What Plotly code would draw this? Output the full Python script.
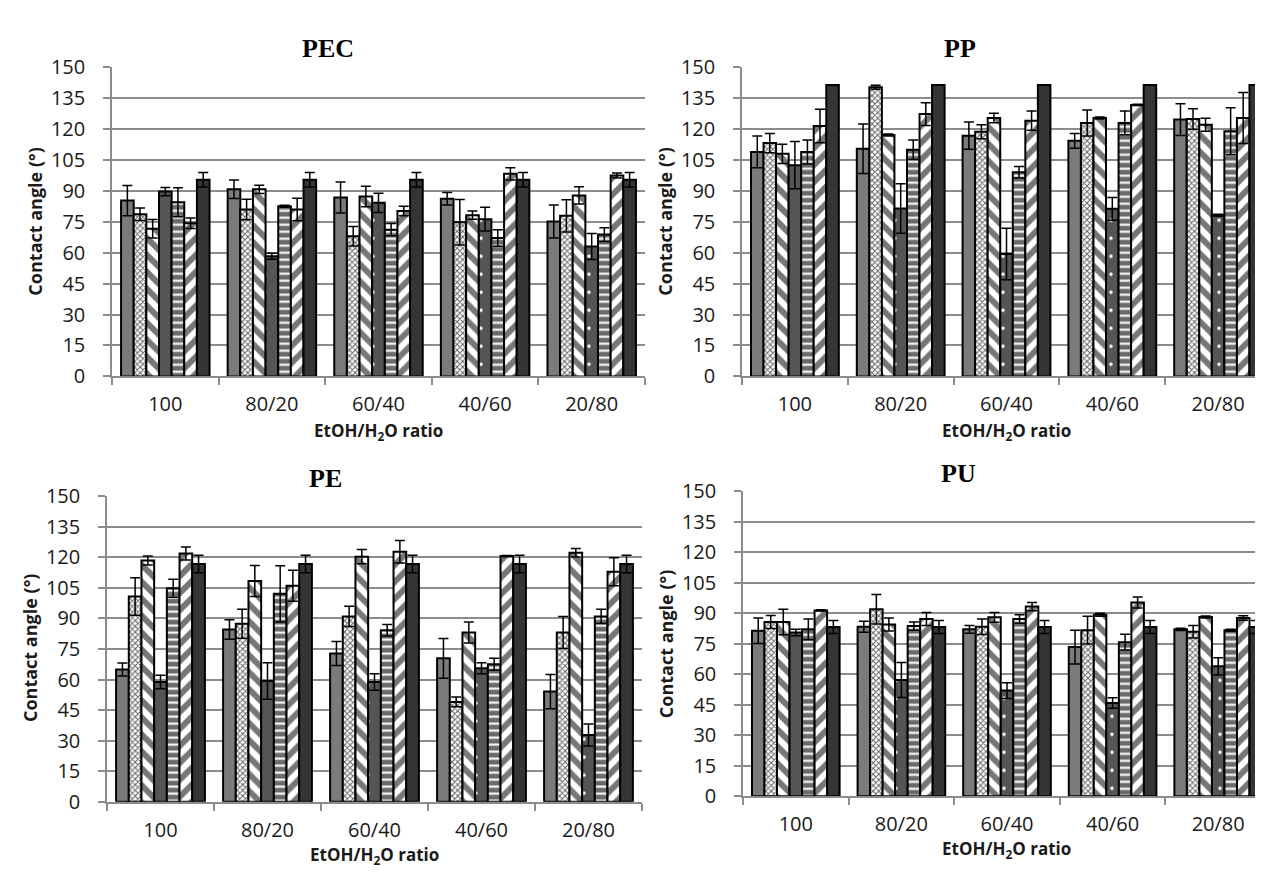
import plotly.graph_objects as go

CATEGORIES = ["100", "80/20", "60/40", "40/60", "20/80"]
PANEL_TITLES = ["PEC", "PP", "PE", "PU"]

# values per series (7 series) for each category
PEC_VALUES = [
    [85.3, 90.8, 86.8, 86.2, 75.2],
    [78.7, 81.0, 68.0, 74.8, 77.9],
    [71.6, 90.8, 87.3, 78.2, 87.8],
    [89.7, 58.3, 84.2, 76.3, 63.0],
    [84.5, 82.6, 71.2, 67.2, 68.8],
    [74.3, 81.0, 80.3, 98.3, 97.5],
    [95.4, 95.4, 95.4, 95.4, 95.4],
]
PEC_ERRORS = [
    [7.3, 4.5, 7.5, 3.0, 8.0],
    [3.0, 5.0, 4.7, 11.0, 7.8],
    [4.5, 2.0, 5.0, 2.0, 4.2],
    [2.0, 1.5, 4.7, 5.8, 6.3],
    [7.0, 0.5, 3.0, 4.0, 3.3],
    [2.5, 5.5, 2.3, 3.0, 1.2],
    [3.5, 3.5, 3.5, 3.5, 3.5],
]
PP_VALUES = [
    [108.9, 110.5, 116.8, 114.3, 124.6],
    [113.2, 140.3, 118.7, 123.0, 124.9],
    [108.0, 117.1, 125.4, 125.4, 122.1],
    [102.5, 81.5, 59.4, 81.3, 78.2],
    [108.9, 110.0, 99.1, 123.0, 119.0],
    [121.5, 127.3, 124.1, 131.7, 125.4],
    [141.4, 141.4, 141.4, 141.4, 141.4],
]
PP_ERRORS = [
    [7.7, 12.0, 6.6, 3.6, 7.7],
    [4.7, 1.0, 3.4, 6.3, 5.0],
    [4.7, 0.5, 2.3, 0.5, 3.1],
    [11.5, 12.0, 12.5, 5.5, 0.5],
    [5.8, 4.7, 2.8, 5.8, 11.4],
    [8.1, 5.5, 4.7, 0.3, 12.4],
    [0.0, 0.0, 0.0, 0.0, 0.0],
]
PE_VALUES = [
    [64.9, 84.6, 72.8, 70.4, 54.1],
    [100.8, 87.4, 91.0, 49.0, 83.1],
    [118.4, 108.4, 120.3, 83.1, 122.2],
    [58.8, 59.3, 58.8, 65.6, 32.8],
    [104.8, 102.1, 84.2, 67.5, 91.0],
    [121.9, 106.0, 122.7, 120.6, 112.9],
    [116.7, 116.7, 116.7, 116.7, 116.7],
]
PE_ERRORS = [
    [3.2, 4.8, 5.9, 9.8, 8.4],
    [9.2, 7.1, 5.0, 2.4, 7.9],
    [2.2, 7.6, 3.5, 5.2, 2.1],
    [3.3, 9.0, 4.0, 2.7, 5.4],
    [4.4, 13.8, 2.8, 2.9, 3.5],
    [3.2, 7.6, 5.5, 0.3, 6.9],
    [4.3, 4.3, 4.3, 4.3, 4.3],
]
PU_VALUES = [
    [81.4, 83.4, 82.1, 73.4, 82.1],
    [85.7, 92.0, 83.4, 81.7, 80.9],
    [85.7, 84.5, 88.0, 89.3, 88.2],
    [80.6, 57.2, 52.0, 45.9, 63.9],
    [82.1, 83.7, 87.2, 75.8, 81.7],
    [91.4, 87.2, 93.3, 95.3, 87.7],
    [83.3, 83.3, 83.3, 83.3, 83.3],
]
PU_ERRORS = [
    [6.3, 2.7, 1.9, 8.3, 0.5],
    [3.2, 7.3, 3.8, 6.8, 3.1],
    [6.3, 3.2, 2.4, 0.7, 0.5],
    [1.6, 8.6, 3.9, 2.6, 4.3],
    [5.1, 2.0, 2.1, 3.9, 0.5],
    [0.3, 3.2, 2.0, 2.7, 1.1],
    [3.2, 3.2, 3.2, 3.2, 3.2],
]
SERIES_NAMES = ["Series 1", "Series 2", "Series 3", "Series 4", "Series 5", "Series 6", "Series 7"]

# bar fill styles (solid / patterned, grayscale)
STYLES = [
    dict(color="#7b7b7b", pattern=dict(shape="")),
    dict(color="#ffffff", pattern=dict(shape="x", fgcolor="#666666", bgcolor="#ffffff", size=4, solidity=0.45, fillmode="replace")),
    dict(color="#ffffff", pattern=dict(shape="\\", fgcolor="#777777", bgcolor="#ffffff", size=12, solidity=0.5, fillmode="replace")),
    dict(color="#555555", pattern=dict(shape=".", fgcolor="#ffffff", bgcolor="#555555", size=18, solidity=0.03, fillmode="replace")),
    dict(color="#6a6a6a", pattern=dict(shape="-", fgcolor="#ffffff", bgcolor="#6a6a6a", size=7, solidity=0.3, fillmode="replace")),
    dict(color="#ffffff", pattern=dict(shape="/", fgcolor="#777777", bgcolor="#ffffff", size=12, solidity=0.5, fillmode="replace")),
    dict(color="#353535", pattern=dict(shape="")),
]

W, H = 1263, 873
# plot areas in pixels: (x0, x1, ytop, ybottom)
AREAS = [
    (104, 637, 46.7, 365.7),
    (734, 1263, 46.7, 365.7),
    (99, 634, 489.3, 804.7),
    (735, 1263, 484.3, 799),
]
PANELS = [
    (PEC_VALUES, PEC_ERRORS),
    (PP_VALUES, PP_ERRORS),
    (PE_VALUES, PE_ERRORS),
    (PU_VALUES, PU_ERRORS),
]

fig = go.Figure()
layout = dict(
    width=W, height=H, margin=dict(l=0, r=0, t=0, b=0),
    plot_bgcolor="white", paper_bgcolor="white", showlegend=False,
    barmode="group", bargap=0.17, bargroupgap=0.0,
    font=dict(family="Open Sans, DejaVu Sans, sans-serif", color="#1a1a1a"),
)

for p, ((vals, errs), (x0, x1, yt, yb)) in enumerate(zip(PANELS, AREAS)):
    xa = "x" if p == 0 else f"x{p+1}"
    ya = "y" if p == 0 else f"y{p+1}"
    for s in range(7):
        st = STYLES[s]
        has_err = any(e > 0 for e in errs[s])
        fig.add_trace(go.Bar(
            x=CATEGORIES, y=vals[s], name=SERIES_NAMES[s],
            xaxis=xa, yaxis=ya,
            marker=dict(color=st["color"], pattern=st["pattern"],
                        line=dict(color="#000000", width=2)),
            error_y=dict(type="data", array=errs[s], visible=has_err,
                         color="#000000", thickness=1.5, width=5),
        ))
    xkey = "xaxis" if p == 0 else f"xaxis{p+1}"
    ykey = "yaxis" if p == 0 else f"yaxis{p+1}"
    layout[xkey] = dict(
        domain=[x0 / W, x1 / W], anchor=ya,
        showline=True, linecolor="#8c8c8c", linewidth=1.5,
        ticks="outside", tickson="boundaries", ticklen=7, tickcolor="#8c8c8c", tickwidth=1.5,
        tickfont=dict(size=20, color="#1a1a1a"), ticklabelstandoff=9,
        showgrid=False,
    )
    layout[ykey] = dict(
        domain=[1 - yb / H, 1 - yt / H], anchor=xa,
        range=[0, 150], dtick=15, tick0=0,
        showline=True, linecolor="#8c8c8c", linewidth=1.5,
        ticks="outside", ticklen=7, tickcolor="#8c8c8c", tickwidth=1.5,
        showgrid=True, gridcolor="#8c8c8c", gridwidth=1.5,
        tickfont=dict(size=20, color="#1a1a1a"), ticklabelstandoff=14,
        zeroline=False,
    )

fig.update_layout(**layout)

# titles and axis titles as annotations (pixel positions of text centres)
TITLE_POS = [(320, 27), (952, 27), (317, 471), (950, 466)]
XT_POS = [(370, 423), (998, 423), (366, 860), (998, 854)]
YT_POS = [(27, 206), (657, 206), (22, 646), (658, 642)]
for p in range(4):
    tx, ty = TITLE_POS[p]
    fig.add_annotation(x=tx / W, y=1 - ty / H, xref="paper", yref="paper",
                       text=f"<b>{PANEL_TITLES[p]}</b>", showarrow=False,
                       font=dict(family="Liberation Serif, Times New Roman, serif", size=26, color="#000000"),
                       xanchor="center", yanchor="middle")
    xx, xy = XT_POS[p]
    fig.add_annotation(x=xx / W, y=1 - xy / H, xref="paper", yref="paper",
                       text="<b>EtOH/H<sub>2</sub>O ratio</b>", showarrow=False,
                       font=dict(size=17, color="#1a1a1a"),
                       xanchor="center", yanchor="middle")
    yx, yy = YT_POS[p]
    fig.add_annotation(x=yx / W, y=1 - yy / H, xref="paper", yref="paper",
                       text="<b>Contact angle (°)</b>", showarrow=False, textangle=-90,
                       font=dict(size=18, color="#1a1a1a"),
                       xanchor="center", yanchor="middle")

fig.write_html("out.html")
